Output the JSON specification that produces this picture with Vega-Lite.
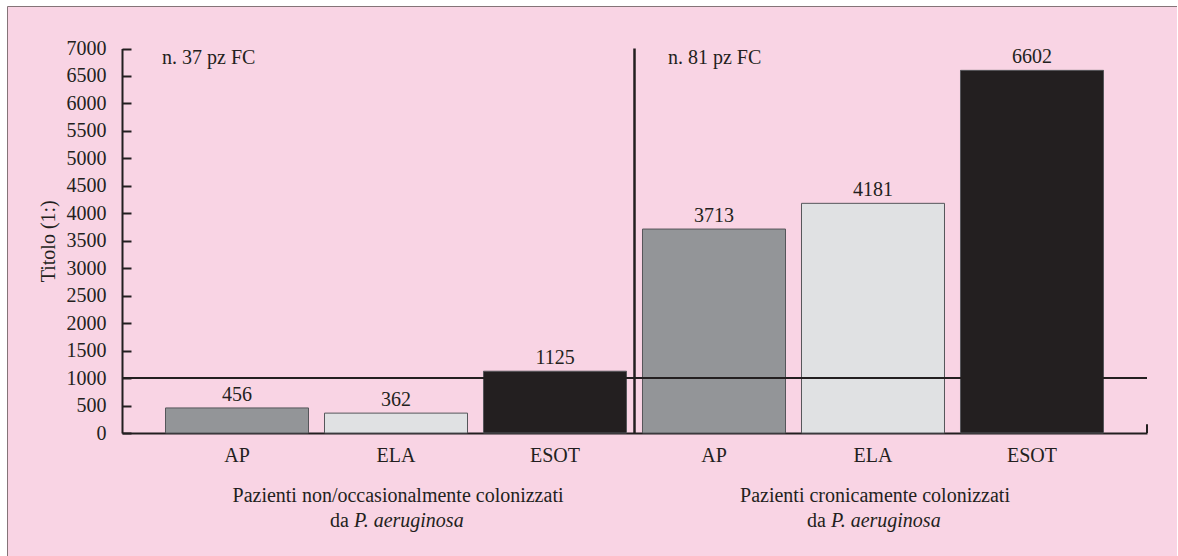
{
  "$schema": "https://vega.github.io/schema/vega-lite/v6.json",
  "width": 1170,
  "height": 555,
  "autosize": {"type": "none"},
  "padding": {"left": 7, "top": 6, "right": 0, "bottom": 0},
  "background": "#ffffff",
  "config": {
    "view": {"fill": "#f9d4e4", "stroke": "#857478", "strokeWidth": 1},
    "font": "Liberation Serif",
    "axis": {"labelOverlap": false, "labelBound": false},
    "axisY": {"labelOverlap": false, "tickCount": 20},
    "text": {"font": "Liberation Serif", "fontSize": 20, "color": "#231f20"}
  },
  "datasets": {
    "bars": [
      {"id": "1|AP", "cat": "AP", "group": 1, "value": 456},
      {"id": "1|ELA", "cat": "ELA", "group": 1, "value": 362},
      {"id": "1|ESOT", "cat": "ESOT", "group": 1, "value": 1125},
      {"id": "2|AP", "cat": "AP", "group": 2, "value": 3713},
      {"id": "2|ELA", "cat": "ELA", "group": 2, "value": 4181},
      {"id": "2|ESOT", "cat": "ESOT", "group": 2, "value": 6602}
    ],
    "groups": [
      {"group": 1, "id": "1|ELA", "first": "1|AP", "line1": "Pazienti non/occasionalmente colonizzati", "da": "da", "species": "P. aeruginosa", "note": "n. 37 pz FC"},
      {"group": 2, "id": "2|ELA", "first": "2|AP", "line1": "Pazienti cronicamente colonizzati", "da": "da", "species": "P. aeruginosa", "note": "n. 81 pz FC"}
    ],
    "deco": [{"threshold": 1000}]
  },
  "layer": [
    {
      "layer": [
        {
          "data": {"name": "bars"},
          "mark": {"type": "bar", "stroke": "#55565a", "strokeWidth": 1},
          "encoding": {
            "x": {
              "field": "id", "type": "nominal", "sort": null,
              "scale": {"domain": ["1|AP", "1|ELA", "1|ESOT", "2|AP", "2|ELA", "2|ESOT"], "range": [115, 1140], "paddingInner": 0.1006, "paddingOuter": 0.2736},
              "axis": {
                "title": null, "orient": "bottom", "offset": -128, "ticks": false,
                "domainColor": "#231f20", "domainWidth": 2,
                "labelFont": "Liberation Serif", "labelFontSize": 20, "labelColor": "#231f20",
                "labelPadding": 12, "labelAngle": 0,
                "labelExpr": "split(datum.value, '|')[1]", "grid": false
              }
            },
            "y": {
              "field": "value", "type": "quantitative",
              "scale": {"domain": [0, 7000], "range": [427, 42.5], "nice": false, "zero": true},
              "axis": {
                "title": "Titolo (1:)", "offset": -115, "format": "d",
                "values": [0, 500, 1000, 1500, 2000, 2500, 3000, 3500, 4000, 4500, 5000, 5500, 6000, 6500, 7000],
                "tickCount": 20,
                "labelOverlap": false,
                "tickSize": -9, "tickWidth": 2, "tickColor": "#231f20",
                "domainColor": "#231f20", "domainWidth": 2,
                "labelFont": "Liberation Serif", "labelFontSize": 20, "labelColor": "#231f20", "labelPadding": 25,
                "titleFont": "Liberation Serif", "titleFontSize": 20, "titleFontWeight": "normal", "titleColor": "#231f20",
                "titlePadding": 8, "grid": false
              }
            },
            "color": {
              "field": "cat", "type": "nominal",
              "scale": {"domain": ["AP", "ELA", "ESOT"], "range": ["#939598", "#e0e1e3", "#231f20"]},
              "legend": null
            }
          }
        },
        {
          "data": {"name": "bars"},
          "mark": {"type": "text", "baseline": "alphabetic", "dy": -7, "fontSize": 20},
          "encoding": {
            "x": {"field": "id", "type": "nominal", "sort": null},
            "y": {"field": "value", "type": "quantitative"},
            "text": {"field": "value", "type": "quantitative"}
          }
        },
        {
          "data": {"name": "groups"},
          "transform": [{"filter": "datum.group == 1"}],
          "mark": {"type": "text", "align": "left", "baseline": "alphabetic", "dx": -3.5, "dy": 15.5, "fontSize": 20},
          "encoding": {
            "x": {"field": "first", "type": "nominal", "bandPosition": 0},
            "y": {"datum": 7000, "type": "quantitative"},
            "text": {"field": "note"}
          }
        },
        {
          "data": {"name": "groups"},
          "transform": [{"filter": "datum.group == 2"}],
          "mark": {"type": "text", "align": "left", "baseline": "alphabetic", "dx": 25.5, "dy": 15.5, "fontSize": 20},
          "encoding": {
            "x": {"field": "first", "type": "nominal", "bandPosition": 0},
            "y": {"datum": 7000, "type": "quantitative"},
            "text": {"field": "note"}
          }
        },
        {
          "data": {"name": "groups"},
          "mark": {"type": "text", "align": "center", "baseline": "alphabetic", "dy": 68.5, "dx": 2, "fontSize": 20},
          "encoding": {
            "x": {"field": "id", "type": "nominal"},
            "y": {"datum": 0, "type": "quantitative"},
            "text": {"field": "line1"}
          }
        },
        {
          "data": {"name": "groups"},
          "mark": {"type": "text", "align": "right", "baseline": "alphabetic", "dy": 94, "dx": -47, "fontSize": 20},
          "encoding": {
            "x": {"field": "id", "type": "nominal"},
            "y": {"datum": 0, "type": "quantitative"},
            "text": {"field": "da"}
          }
        },
        {
          "data": {"name": "groups"},
          "mark": {"type": "text", "align": "left", "baseline": "alphabetic", "dy": 94, "dx": -42, "fontSize": 20, "fontStyle": "italic"},
          "encoding": {
            "x": {"field": "id", "type": "nominal"},
            "y": {"datum": 0, "type": "quantitative"},
            "text": {"field": "species"}
          }
        }
      ]
    },
    {
      "data": {"name": "deco"},
      "layer": [
        {
          "mark": {"type": "rule", "color": "#231f20", "strokeWidth": 2},
          "encoding": {
            "x": {"datum": 0, "type": "quantitative", "scale": {"domain": [0, 1], "range": [115, 1140], "nice": false, "zero": false}, "axis": null},
            "x2": {"datum": 1},
            "y": {
              "field": "threshold", "type": "quantitative",
              "axis": {
                "title": "Titolo (1:)", "offset": -115, "format": "d",
                "values": [0, 500, 1000, 1500, 2000, 2500, 3000, 3500, 4000, 4500, 5000, 5500, 6000, 6500, 7000],
                "tickCount": 20,
                "labelOverlap": false,
                "tickSize": -9, "tickWidth": 2, "tickColor": "#231f20",
                "domainColor": "#231f20", "domainWidth": 2,
                "labelFont": "Liberation Serif", "labelFontSize": 20, "labelColor": "#231f20", "labelPadding": 25,
                "titleFont": "Liberation Serif", "titleFontSize": 20, "titleFontWeight": "normal", "titleColor": "#231f20",
                "titlePadding": 8, "grid": false
              }
            }
          }
        },
        {
          "mark": {"type": "rule", "color": "#231f20", "strokeWidth": 2.5},
          "encoding": {
            "x": {"datum": 0.5, "type": "quantitative"},
            "y": {"datum": 0, "type": "quantitative"},
            "y2": {"datum": 7000}
          }
        },
        {
          "mark": {"type": "rule", "color": "#231f20", "strokeWidth": 2},
          "encoding": {
            "x": {"datum": 1, "type": "quantitative"},
            "y": {"datum": 0, "type": "quantitative"},
            "y2": {"datum": 160}
          }
        }
      ]
    }
  ],
  "resolve": {"scale": {"x": "independent"}}
}
